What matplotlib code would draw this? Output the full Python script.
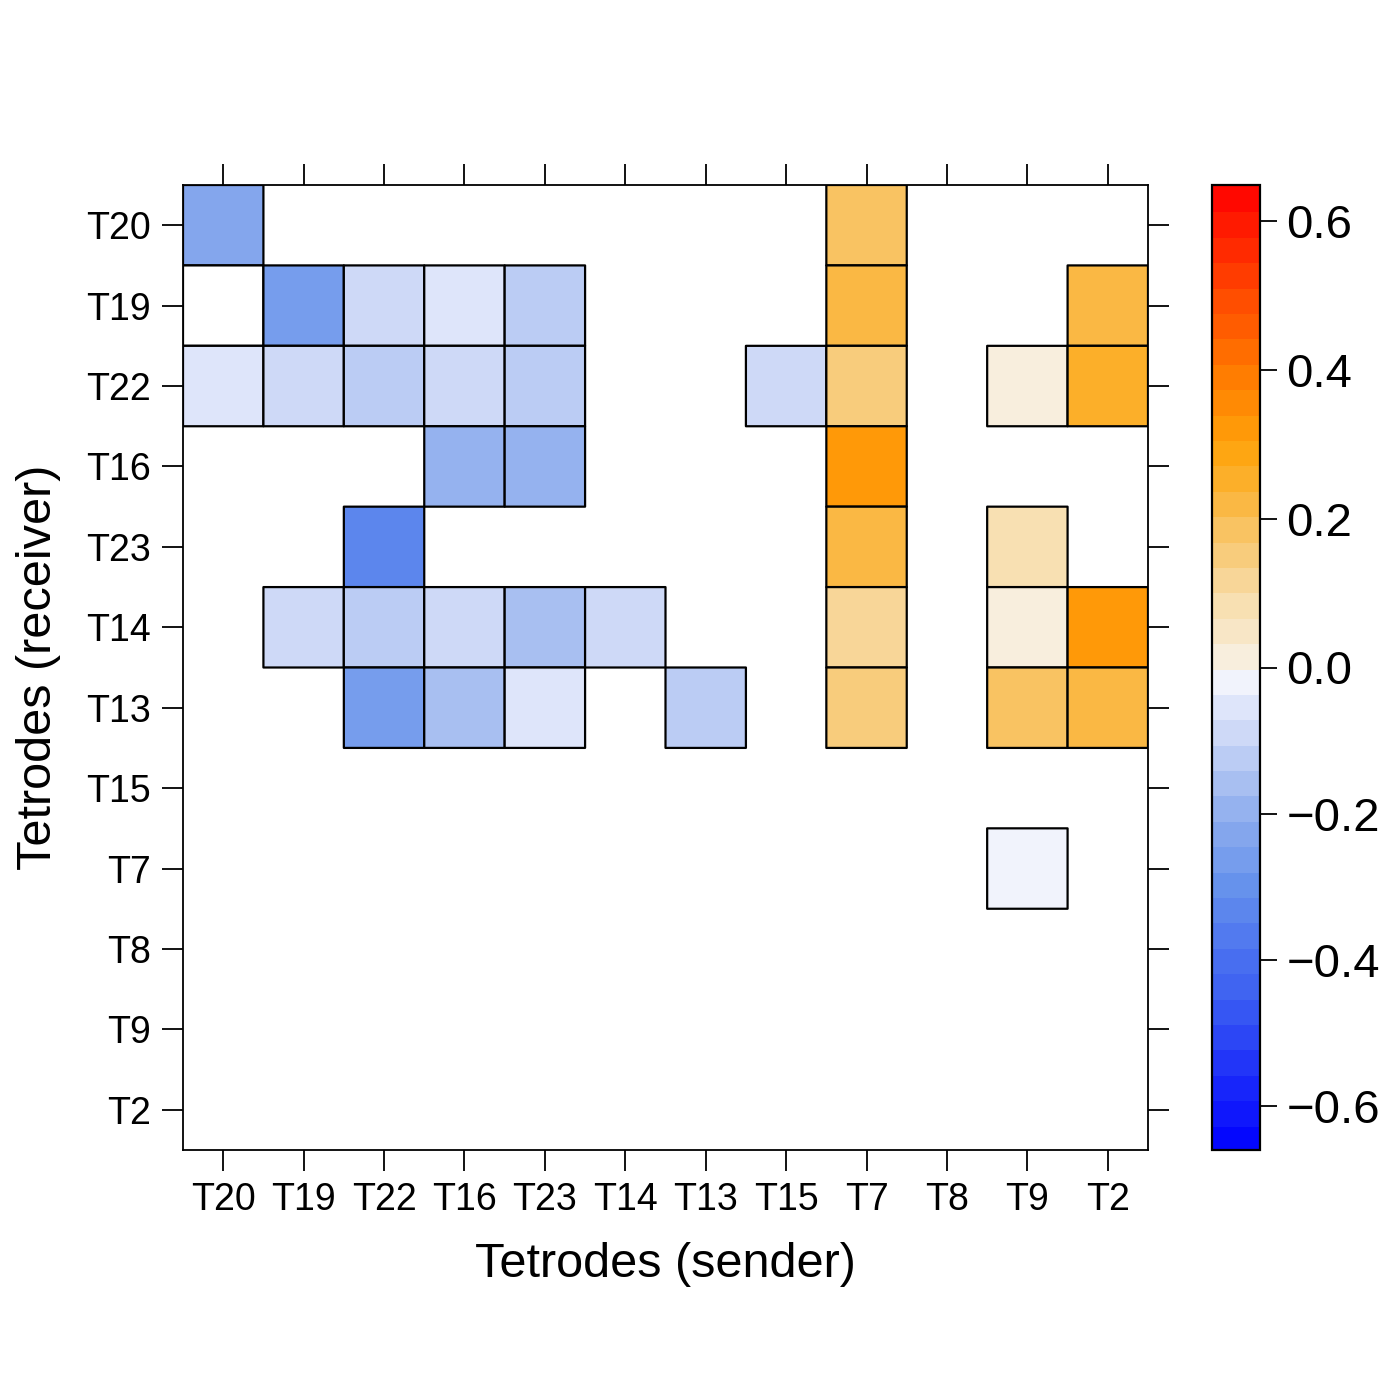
import numpy as np
import matplotlib
matplotlib.use("Agg")
import matplotlib.pyplot as plt
from matplotlib.colors import LinearSegmentedColormap, ListedColormap, BoundaryNorm

plt.rcParams['font.family'] = ['Liberation Sans', 'DejaVu Sans']

senders = ["T20", "T19", "T22", "T16", "T23", "T14", "T13", "T15", "T7", "T8", "T9", "T2"]
receivers = ["T20", "T19", "T22", "T16", "T23", "T14", "T13", "T15", "T7", "T8", "T9", "T2"]

nan = np.nan
# rows = receivers (top to bottom), columns = senders (left to right)
values = [
    [-0.22, nan, nan, nan, nan, nan, nan, nan, 0.18, nan, nan, nan],          # T20
    [0.70, -0.27, -0.10, -0.06, -0.13, nan, nan, nan, 0.22, nan, nan, 0.22],  # T19 (first cell out of range)
    [-0.06, -0.10, -0.13, -0.10, -0.13, nan, nan, -0.07, 0.17, nan, 0.02, 0.26],  # T22
    [nan, nan, nan, -0.18, -0.20, nan, nan, nan, 0.32, nan, nan, nan],        # T16
    [nan, nan, -0.33, nan, nan, nan, nan, nan, 0.22, nan, 0.10, nan],         # T23
    [nan, -0.10, -0.12, -0.07, -0.15, -0.07, nan, nan, 0.12, nan, 0.03, 0.32],  # T14
    [nan, nan, -0.27, -0.15, -0.06, nan, -0.13, nan, 0.16, nan, 0.19, 0.22],  # T13
    [nan] * 12,                                                               # T15
    [nan, nan, nan, nan, nan, nan, nan, nan, nan, nan, -0.01, nan],           # T7
    [nan] * 12,                                                               # T8
    [nan] * 12,                                                               # T9
    [nan] * 12,                                                               # T2
]

vmin, vmax = -0.66, 0.648
levels = np.concatenate([np.linspace(vmin, 0, 20), np.linspace(0, vmax, 20)[1:]])
cbar_ticks = [-0.6, -0.4, -0.2, 0.0, 0.2, 0.4, 0.6]

anchors = [
    (-0.66, (0, 0, 255)),
    (-0.45, (60, 95, 242)),
    (-0.30, (100, 145, 236)),
    (-0.20, (145, 175, 238)),
    (-0.10, (198, 212, 246)),
    (-0.01, (246, 246, 253)),
    (0.0, (247, 247, 253)),
    (0.0001, (248, 242, 232)),
    (0.10, (248, 220, 168)),
    (0.17, (248, 200, 112)),
    (0.22, (250, 185, 70)),
    (0.30, (255, 163, 10)),
    (0.40, (255, 122, 0)),
    (0.50, (255, 75, 0)),
    (0.648, (255, 0, 0)),
]
span = vmax - vmin
base = LinearSegmentedColormap.from_list(
    "bwor", [((v - vmin) / span, tuple(c / 255 for c in col)) for v, col in anchors])
centers = (levels[:-1] + levels[1:]) / 2
cmap = ListedColormap([base((c - vmin) / span) for c in centers])
cmap.set_over("white")
cmap.set_under("white")
norm = BoundaryNorm(levels, cmap.N)

fig = plt.figure(figsize=(14, 14), dpi=100)
ax = fig.add_axes([183 / 1400, 250 / 1400, 965 / 1400, 965 / 1400])
cax = fig.add_axes([1212 / 1400, 250 / 1400, 48 / 1400, 965 / 1400])

data = np.ma.masked_invalid(np.array(values, dtype=float))
n = len(senders)
xe = np.arange(n + 1) - 0.5
ye = np.arange(n + 1) - 0.5
ax.pcolor(xe, ye, data, cmap=cmap, norm=norm, edgecolors="black", linewidth=1.6)
ax.set_xlim(-0.5, n - 0.5)
ax.set_ylim(n - 0.5, -0.5)
ax.set_xticks(range(n))
ax.set_xticklabels(senders)
ax.set_yticks(range(n))
ax.set_yticklabels(receivers)
ax.tick_params(axis="both", which="both", direction="out", length=15, width=1.3,
               labelsize=27, top=True, right=True, labeltop=False, labelright=False, pad=8)
for s in ax.spines.values():
    s.set_linewidth(1.3)
ax.set_xlabel("Tetrodes (sender)", fontsize=35, labelpad=17)
ax.set_ylabel("Tetrodes (receiver)", fontsize=35, labelpad=18)

cb = fig.colorbar(plt.cm.ScalarMappable(norm=norm, cmap=cmap), cax=cax,
                  boundaries=levels, ticks=cbar_ticks)
cb.ax.minorticks_off()
cb.ax.set_yticklabels([f"{t:.1f}".replace("-", "\u2212") for t in cbar_ticks])
cb.ax.tick_params(labelsize=34, length=12, width=1.3, pad=7)
cb.outline.set_linewidth(1.6)
cb.solids.set_edgecolor("face")

fig.savefig("out.png", dpi=100)
